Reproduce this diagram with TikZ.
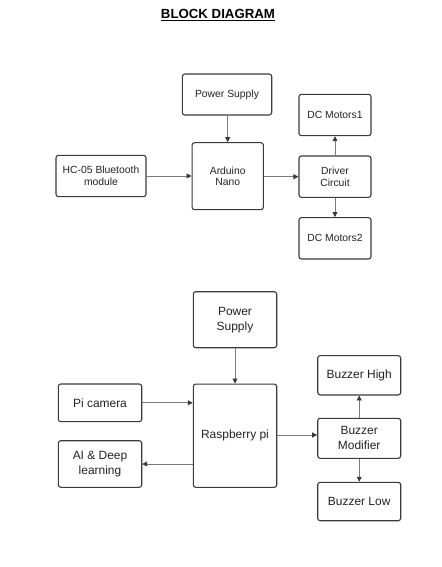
\documentclass[tikz,border=0pt]{standalone}
\usepackage{fontspec}
\setmainfont{Liberation Sans}
\usetikzlibrary{arrows.meta}
\definecolor{boxline}{HTML}{3A3A3A}
\definecolor{arrline}{HTML}{7A7A7A}
\definecolor{txt}{HTML}{222222}
\tikzset{
  blk/.style={draw=boxline, line width=1.1pt, rounded corners=2.5pt, inner sep=0pt,
    align=center, text=txt, anchor=center},
  smallblk/.style={blk, font=\fontsize{10.4}{11.5}\selectfont},
  bigblk/.style={blk, font=\fontsize{12}{15}\selectfont},
  arr/.style={draw=arrline, line width=0.7pt, -{Triangle[length=5pt,width=5pt,color=boxline]}},
}
\begin{document}
\begin{tikzpicture}[x=1bp,y=-1bp]
\useasboundingbox (0,0) rectangle (442,567);
% title
\node[anchor=base, font=\fontsize{13.3}{15}\selectfont\bfseries, text=black, inner sep=0pt] (title) at (218,18.3) {\underline{BLOCK DIAGRAM}};
% diagram 1
\node[smallblk, minimum width=89.4bp, minimum height=41bp] (ps1) at (227,94.5) {Power Supply};
\node[smallblk, minimum width=71.3bp, minimum height=67bp] (ard) at (227.7,176.2) {Arduino\\Nano};
\node[smallblk, minimum width=90bp, minimum height=41.4bp] (hc) at (101,176) {HC-05 Bluetooth\\module};
\node[smallblk, minimum width=72bp, minimum height=41.4bp] (dc1) at (335,115) {DC Motors1};
\node[smallblk, minimum width=72bp, minimum height=41.4bp] (drv) at (335,176.7) {Driver\\Circuit};
\node[smallblk, minimum width=72bp, minimum height=41.4bp] (dc2) at (335,238.3) {DC Motors2};
\draw[arr] (ps1.south -| ard.center) -- (ard.north);
\draw[arr] (hc.east) -- (hc.east -| ard.west);
\draw[arr] (ard.east |- drv.west) -- (drv.west);
\draw[arr] (drv.north) -- (dc1.south);
\draw[arr] (drv.south) -- (dc2.north);
% diagram 2
\node[bigblk, minimum width=83.4bp, minimum height=56bp] (ps2) at (235,319.7) {Power\\Supply};
\node[bigblk, minimum width=83.4bp, minimum height=103.3bp] (rpi) at (235,435.7) {Raspberry pi};
\node[bigblk, minimum width=83.4bp, minimum height=37.7bp] (cam) at (100,402.8) {Pi camera};
\node[bigblk, minimum width=83.4bp, minimum height=46.6bp] (ai) at (100,464) {AI \& Deep\\learning};
\node[bigblk, minimum width=83bp, minimum height=39.3bp] (bh) at (359.2,375.3) {Buzzer High};
\node[bigblk, minimum width=83bp, minimum height=40bp] (bm) at (359.2,438.3) {Buzzer\\Modifier};
\node[bigblk, minimum width=83bp, minimum height=38.4bp] (bl) at (359.2,501.5) {Buzzer Low};
\draw[arr] (ps2.south) -- (rpi.north);
\draw[arr] (cam.east) -- (cam.east -| rpi.west);
\draw[arr] (rpi.west |- ai.east) -- (ai.east);
\draw[arr] (rpi.east |- 0,435) -- (bm.west |- 0,435);
\draw[arr] (bm.north) -- (bh.south);
\draw[arr] (bm.south) -- (bl.north);
\end{tikzpicture}
\end{document}
